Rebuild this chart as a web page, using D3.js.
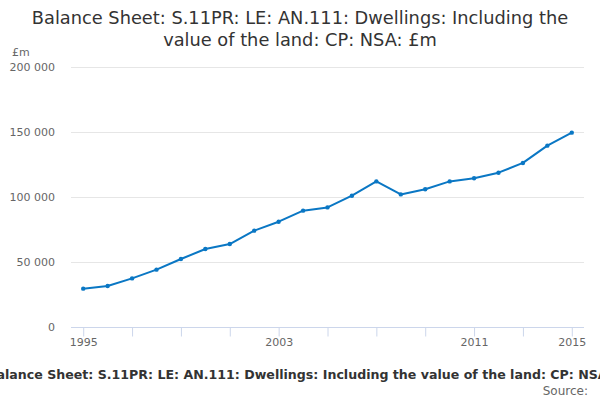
<!DOCTYPE html>
<html>
<head>
<meta charset="utf-8">
<script src="https://cdn.jsdelivr.net/npm/d3@7"></script>
<style>
  body { margin: 0; background: #fff; }
  text { font-family: "DejaVu Sans", sans-serif; }
</style>
</head>
<body>
<div id="chart"></div>
<script>
// Data (£m)
const years = d3.range(1995, 2016);
const values = [29500, 31500, 37400, 44100, 52300, 60000, 63800, 74100, 81000, 89500,
    92000, 101000, 112000, 102000, 106000, 112000, 114400, 118700, 126200, 139500, 149500];
const yTicks = [0, 50000, 100000, 150000, 200000];
const xTickMarks = d3.range(1995, 2016, 2);
const xTickLabels = [1995, 2003, 2011, 2015];

const titleLines = ["Balance Sheet: S.11PR: LE: AN.111: Dwellings: Including the",
    "value of the land: CP: NSA: £m"];
const caption = "Balance Sheet: S.11PR: LE: AN.111: Dwellings: Including the value of the land: CP: NSA: £m";

const W = 600, H = 400;
const plot = { left: 71, right: 584, top: 67, bottom: 327 };

const svg = d3.select("#chart")
    .append("svg")
    .attr("width", W)
    .attr("height", H);

const x = d3.scaleLinear()
    .domain([1994.5, 2015.5])
    .range([plot.left, plot.right]);

const y = d3.scaleLinear()
    .domain([0, 200000])
    .range([plot.bottom, plot.top]);

const fmt = v => d3.format(",")(v).replace(/,/g, " ");

// Title
svg.append("text")
    .attr("x", W / 2)
    .attr("y", 24)
    .attr("text-anchor", "middle")
    .style("font-size", "17.8px")
    .style("fill", "#333")
    .selectAll("tspan")
    .data(titleLines)
    .enter()
    .append("tspan")
    .attr("x", W / 2)
    .attr("dy", (d, i) => i === 0 ? 0 : 22)
    .text(d => d);

// Unit label
svg.append("text")
    .attr("x", 12)
    .attr("y", 56)
    .style("font-size", "11px")
    .style("fill", "#666")
    .text("£m");

// Grid lines (not on 0)
svg.append("g")
    .selectAll("line")
    .data(yTicks.filter(d => d > 0))
    .enter()
    .append("line")
    .attr("x1", plot.left)
    .attr("x2", plot.right)
    .attr("y1", d => Math.round(y(d)) + 0.5)
    .attr("y2", d => Math.round(y(d)) + 0.5)
    .attr("stroke", "#e6e6e6");

// Y axis labels
svg.append("g")
    .selectAll("text")
    .data(yTicks)
    .enter()
    .append("text")
    .attr("x", 55)
    .attr("y", d => y(d) + 4)
    .attr("text-anchor", "end")
    .style("font-size", "11px")
    .style("fill", "#666")
    .text(fmt);

// X axis
const xAxis = d3.axisBottom(x)
    .tickValues(xTickMarks)
    .tickSize(9)
    .tickFormat(d => xTickLabels.includes(d) ? d : "");

const gx = svg.append("g")
    .attr("transform", `translate(0, ${plot.bottom + 0.5})`)
    .call(xAxis);

gx.select(".domain")
    .attr("d", `M${plot.left},0H${plot.right}`)
    .attr("stroke", "#ccd6eb");
gx.selectAll(".tick line").attr("stroke", "#ccd6eb");
gx.selectAll(".tick text")
    .attr("dy", "0.55em")
    .style("font-size", "11px")
    .style("fill", "#666")
    .style("font-family", "DejaVu Sans, sans-serif");

// Line
const line = d3.line()
    .x((d, i) => x(years[i]))
    .y(d => y(d));

svg.append("path")
    .datum(values)
    .attr("d", line)
    .attr("fill", "none")
    .attr("stroke", "#0a77c4")
    .attr("stroke-width", 2)
    .attr("stroke-linejoin", "round");

svg.append("g")
    .selectAll("circle")
    .data(values)
    .enter()
    .append("circle")
    .attr("cx", (d, i) => x(years[i]))
    .attr("cy", d => y(d))
    .attr("r", 2.2)
    .attr("fill", "#0a77c4");

// Caption (runs past the edges, as in the original) and source
svg.append("text")
    .attr("x", 313)
    .attr("y", 379)
    .attr("text-anchor", "middle")
    .style("font-size", "12.6px")
    .style("font-weight", "bold")
    .style("fill", "#333")
    .text(caption);

svg.append("text")
    .attr("x", 588)
    .attr("y", 395)
    .attr("text-anchor", "end")
    .style("font-size", "12px")
    .style("fill", "#666")
    .text("Source:");
</script>
</body>
</html>
